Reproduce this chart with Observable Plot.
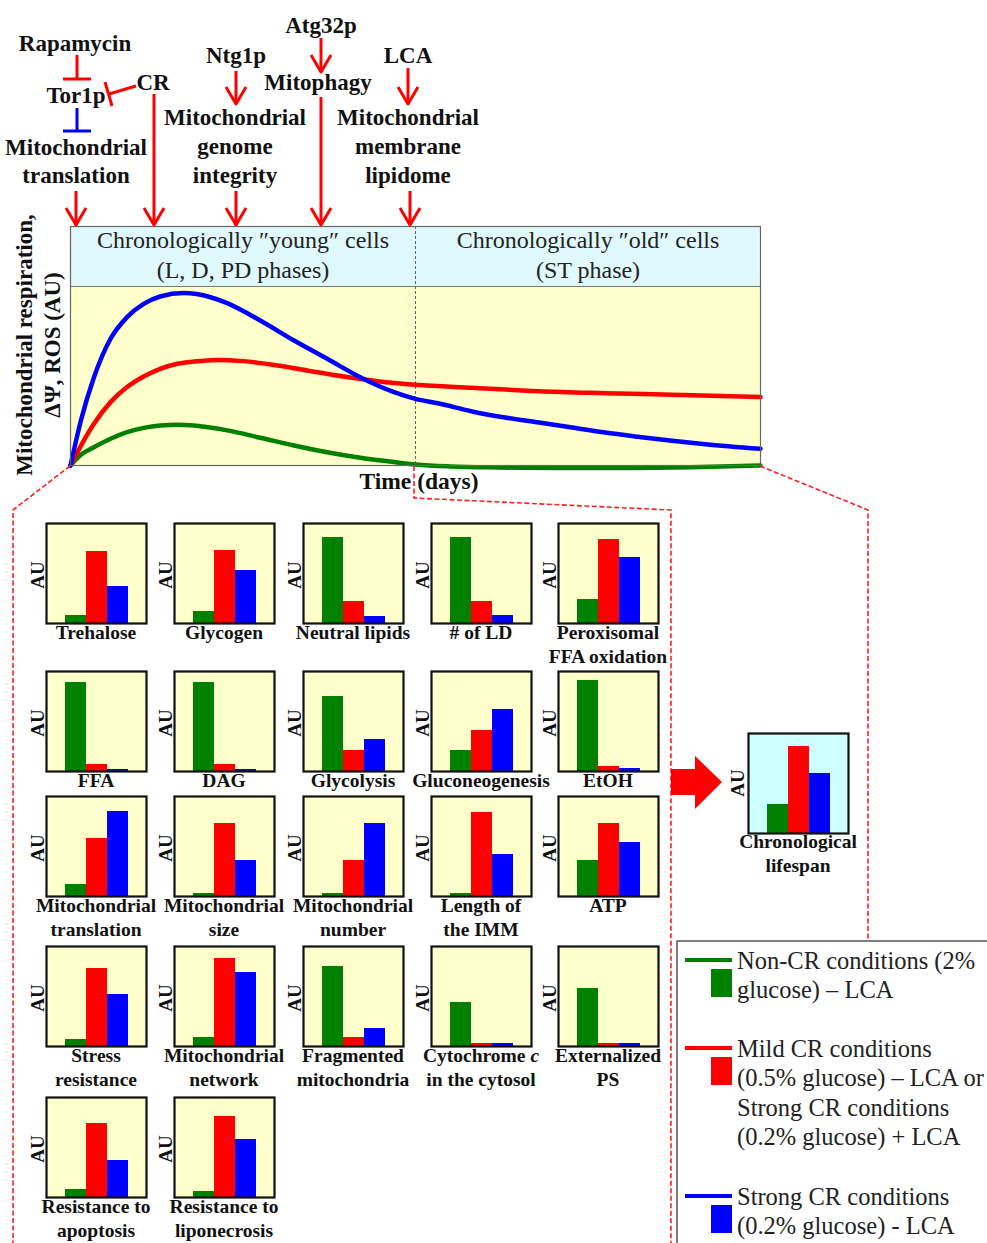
<!DOCTYPE html>
<html><head><meta charset="utf-8">
<script src="https://cdn.jsdelivr.net/npm/d3@7"></script>
<script src="https://cdn.jsdelivr.net/npm/@observablehq/plot@0.6"></script>
<style>
body{margin:0;background:#fff;}
#root{position:relative;width:987px;height:1243px;overflow:hidden;font-family:"Liberation Serif","Times New Roman",serif;background:#fff;}
.lbl{position:absolute;text-align:center;font-weight:bold;font-size:19.5px;line-height:24px;white-space:nowrap;color:#111;transform:translateX(-50%);}
</style></head><body><div id="root"></div>
<script>
// ---------------- DATA ----------------
const conditions = ["Non-CR", "Mild CR", "Strong CR"];
const conditionColors = ["#008000", "#ff0000", "#0000ff"];

// Main chart: time (0-100, arbitrary days) vs. mitochondrial respiration (AU)
const phases = [
  {label: "Chronologically \u2033young\u2033 cells", sub: "(L, D, PD phases)", start: 0, end: 50},
  {label: "Chronologically \u2033old\u2033 cells", sub: "(ST phase)", start: 50, end: 100}
];
const respirationMax = 100;   // top of the plotting area (AU)
const headerTop = 133.5;      // top of the phase header band (AU)

const strongCurve = [[0,0],[1.5,25],[3.4,49.3],[5.8,70.8],[8.2,82.9],[10.6,90.3],[13.0,94.4],[16.4,96.3],[20.3,94.0],[22.7,90.7],[27.5,81.0],[32.4,69.8],[37.2,59.6],[42.0,49.3],[44.5,44.7],[46.9,41.0],[50,37.2],[53.4,34.6],[58.2,30.2],[63.0,26.8],[67.9,24.0],[72.7,21.2],[77.5,18.4],[82.4,16.0],[87.2,13.8],[92.0,11.9],[100,9.3]];
const mildCurve = [[0,0],[1.5,11],[3.4,23.3],[5.8,35.4],[8.2,43.8],[10.6,49.7],[13.0,54.0],[15.5,56.8],[17.9,58.1],[21.3,59.0],[25.1,58.3],[30.0,55.9],[34.8,52.7],[39.6,49.7],[44.5,47.1],[50,45.1],[58.2,43.4],[67.9,41.5],[77.5,40.4],[87.2,39.5],[100,38.2]];
const nonCurve = [[0,0],[1.5,6],[3.4,10.2],[5.8,14.9],[8.2,18.6],[10.6,21.0],[13.0,22.3],[15.5,22.7],[17.9,22.3],[22.7,19.6],[27.5,15.5],[32.4,11.2],[37.2,7.4],[42.0,4.3],[46.9,1.9],[50,0.6],[55,-0.5],[62,-1.1],[70,-1.4],[80,-1.4],[90,-1.0],[100,0]];

// Bar panels (AU, 0-100)
const panelNames = [
  ["Trehalose"], ["Glycogen"], ["Neutral lipids"], ["# of LD"], ["Peroxisomal", "FFA oxidation"],
  ["FFA"], ["DAG"], ["Glycolysis"], ["Gluconeogenesis"], ["EtOH"],
  ["Mitochondrial", "translation"], ["Mitochondrial", "size"], ["Mitochondrial", "number"], ["Length of", "the IMM"], ["ATP"],
  ["Stress", "resistance"], ["Mitochondrial", "network"], ["Fragmented", "mitochondria"], ["Cytochrome <i>c</i>", "in the cytosol"], ["Externalized", "PS"],
  ["Resistance to", "apoptosis"], ["Resistance to", "liponecrosis"]
];
const nonCR    = [8, 12, 86, 86, 24,  89, 89, 75, 21, 91,  12, 3, 3, 3, 36,  7, 9, 80, 44, 58,  8, 6];
const mildCR   = [72, 73, 22, 22, 84,  7, 7, 21, 41, 5,  58, 73, 36, 84, 73,  78, 88, 9, 3, 3,  74, 81];
const strongCR = [37, 53, 7, 8, 66,  2, 2, 32, 62, 3,  85, 36, 73, 42, 54,  52, 74, 18, 3, 3,  37, 58];

const lifespanName = ["Chronological", "lifespan"];
const lifespanValues = [29, 87, 60];

const legendLabels = [
  ["Non-CR conditions (2%", "glucose) \u2013 LCA"],
  ["Mild CR conditions", "(0.5% glucose) \u2013 LCA or", "Strong CR conditions", "(0.2% glucose) + LCA"],
  ["Strong CR conditions", "(0.2% glucose) - LCA"]
];

// Pathway annotation texts
const pathwayTexts = ["Rapamycin", "Tor1p", "CR", "Mitochondrial", "translation", "Ntg1p", "Mitochondrial", "genome", "integrity",
  "Atg32p", "Mitophagy", "LCA", "Mitochondrial", "membrane", "lipidome"];

// ---------------- LAYOUT ----------------
const FONT = "Liberation Serif, Times New Roman, serif";
const root = document.getElementById("root");
const pathwayPos = [[75,43],[76,95],[153,82],[76,147],[76,175],[236,55],[235,117],[235,146],[235,175],[321,25],[318,82],[408,55],[408,117],[408,146],[408,175]];
const colX = [46, 174, 303, 431, 558];
const rowY = [523, 671, 796, 946, 1097];

function place(el, left, top) {
  el.style.position = "absolute";
  el.style.left = left + "px";
  el.style.top = top + "px";
  root.appendChild(el);
}

// ---------------- MAIN CHART ----------------
const curves = [
  ...nonCurve.map(([t, v]) => ({series: conditions[0], t, v})),
  ...mildCurve.map(([t, v]) => ({series: conditions[1], t, v})),
  ...strongCurve.map(([t, v]) => ({series: conditions[2], t, v}))
];
const mid = d => (d.start + d.end) / 2;
const mainChart = Plot.plot({
  width: 800, height: 300,
  marginLeft: 70, marginRight: 40, marginTop: 26, marginBottom: 35,
  x: {domain: [0, 100], axis: null},
  y: {domain: [0, headerTop], axis: null},
  color: {domain: conditions, range: conditionColors},
  style: {background: "transparent", overflow: "visible"},
  marks: [
    Plot.rect(phases, {x1: "start", x2: "end", y1: 0, y2: respirationMax, fill: "#ffffcc"}),
    Plot.rect(phases, {x1: "start", x2: "end", y1: respirationMax, y2: headerTop, fill: "#e0f9fc"}),
    Plot.ruleY([respirationMax], {stroke: "#777", strokeWidth: 1}),
    Plot.ruleX(phases.slice(1), {x: "start", stroke: "#666", strokeDasharray: "3,2", strokeWidth: 1}),
    Plot.line(curves, {x: "t", y: "v", z: "series", stroke: "series", strokeWidth: 4.5, curve: "monotone-x"}),
    Plot.text(phases, {x: mid, y: 125.7, text: "label", fontSize: 24, fontFamily: FONT, fill: "#222"}),
    Plot.text(phases, {x: mid, y: 108.9, text: "sub", fontSize: 24, fontFamily: FONT, fill: "#222"}),
    Plot.frame({stroke: "#666", strokeWidth: 1.2})
  ]
});
place(mainChart, 0, 200);

// ---------------- BAR PANELS ----------------
function panel(values, left, top, bg) {
  const data = conditions.map((c, i) => ({c, v: values[i]}));
  const p = Plot.plot({
    width: 104, height: 104, margin: 2,
    x: {domain: conditions, range: [20, 84], padding: 0, axis: null},
    y: {domain: [0, 100], axis: null},
    color: {domain: conditions, range: conditionColors},
    style: {background: "transparent"},
    marks: [
      Plot.frame({fill: bg, stroke: "none"}),
      Plot.barY(data, {x: "c", y: "v", fill: "c"}),
      Plot.frame({stroke: "#111", strokeWidth: 2.2})
    ]
  });
  place(p, left - 2, top - 2);
}
function label(lines, cx, top) {
  const d = document.createElement("div");
  d.className = "lbl";
  d.innerHTML = lines.join("<br>");
  place(d, cx, top);
}

panelNames.forEach((name, i) => {
  const left = colX[i % 5], top = rowY[Math.floor(i / 5)];
  panel([nonCR[i], mildCR[i], strongCR[i]], left, top, "#ffffcc");
  label(name, left + 50, top + 98);
});
panel(lifespanValues, 748, 733, "#ccffff");
label(lifespanName, 798, 830);

// ---------------- OVERLAY ----------------
const svg = d3.select(root).append("svg")
  .attr("width", 987).attr("height", 1243)
  .style("position", "absolute").style("left", "0px").style("top", "0px")
  .style("pointer-events", "none")
  .attr("font-family", FONT);

// dashed zoom lines
const dash = [
  [[70,466],[13,510],[13,1243]],
  [[414,466],[414,498],[671,510],[671,1243]],
  [[760,466],[868,510],[868,941]]
];
dash.forEach(pts => svg.append("polyline")
  .attr("points", pts.map(p => p.join(",")).join(" "))
  .attr("fill", "none").attr("stroke", "#ff2020").attr("stroke-width", 1.6).attr("stroke-dasharray", "5,2.5"));

// pathway texts
pathwayTexts.forEach((t, i) => svg.append("text")
  .attr("x", pathwayPos[i][0]).attr("y", pathwayPos[i][1])
  .attr("text-anchor", "middle").attr("dominant-baseline", "central")
  .attr("font-size", 23).attr("font-weight", "bold").attr("fill", "#111").text(t));

function seg(x1, y1, x2, y2, color) {
  svg.append("line").attr("x1", x1).attr("y1", y1).attr("x2", x2).attr("y2", y2)
    .attr("stroke", color).attr("stroke-width", 3);
}
function arrow(x, y1, y2) {
  seg(x, y1, x, y2 - 2, "#ff0000");
  svg.append("polyline").attr("points", `${x-10},${y2-18} ${x},${y2-1} ${x+10},${y2-18}`)
    .attr("fill", "none").attr("stroke", "#ff0000").attr("stroke-width", 3).attr("stroke-linejoin", "round");
}
// inhibition bars
seg(77, 55, 77, 79, "#ff0000"); seg(63, 79, 91, 79, "#ff0000");
seg(77, 108, 77, 131, "#0000ff"); seg(63, 131, 91, 131, "#0000ff");
seg(136, 86, 109, 94, "#ff0000"); seg(105, 82, 112, 106, "#ff0000");
// activation arrows
[[76,191,226],[154,94,226],[236,71,105],[236,191,226],[321,38,73],[321,97,226],[408,68,105],[410,191,226]]
  .forEach(([x, a, b]) => arrow(x, a, b));

// y-axis title
[["Mitochondrial respiration,", 24], ["\u0394\u03a8, ROS (AU)", 52]].forEach(([t, x]) => svg.append("text")
  .attr("transform", `translate(${x},345) rotate(-90)`)
  .attr("text-anchor", "middle").attr("dominant-baseline", "central")
  .attr("font-size", 23).attr("font-weight", "bold").attr("fill", "#111").text(t));
svg.append("text").attr("x", 419).attr("y", 481).attr("text-anchor", "middle").attr("dominant-baseline", "central")
  .attr("font-size", 23.5).attr("font-weight", "bold").attr("fill", "#111").text("Time (days)");

// AU labels
const auPos = panelNames.map((_, i) => [colX[i % 5] - 9, rowY[Math.floor(i / 5)] + 52]).concat([[737, 783]]);
auPos.forEach(([x, y]) => svg.append("text")
  .attr("transform", `translate(${x},${y}) rotate(-90)`)
  .attr("text-anchor", "middle").attr("dominant-baseline", "central")
  .attr("font-size", 19).attr("font-weight", "bold").attr("fill", "#111").text("AU"));

// big arrow
svg.append("polygon").attr("points", "671,769 695,769 695,756 722,782 695,809 695,795 671,795").attr("fill", "#ff0000");

// legend
svg.append("rect").attr("x", 677).attr("y", 941).attr("width", 330).attr("height", 330)
  .attr("fill", "none").attr("stroke", "#555").attr("stroke-width", 1.5);
const legendTop = [960, 1048, 1196];
legendLabels.forEach((lines, i) => {
  const y0 = legendTop[i];
  svg.append("line").attr("x1", 685).attr("x2", 732).attr("y1", y0).attr("y2", y0)
    .attr("stroke", conditionColors[i]).attr("stroke-width", 4);
  svg.append("rect").attr("x", 711).attr("y", y0 + 9).attr("width", 21).attr("height", 28).attr("fill", conditionColors[i]);
  lines.forEach((t, j) => svg.append("text").attr("x", 737).attr("y", y0 + j * 29.5)
    .attr("dominant-baseline", "central").attr("font-size", 24.5).attr("fill", "#222").text(t));
});
</script></body></html>
